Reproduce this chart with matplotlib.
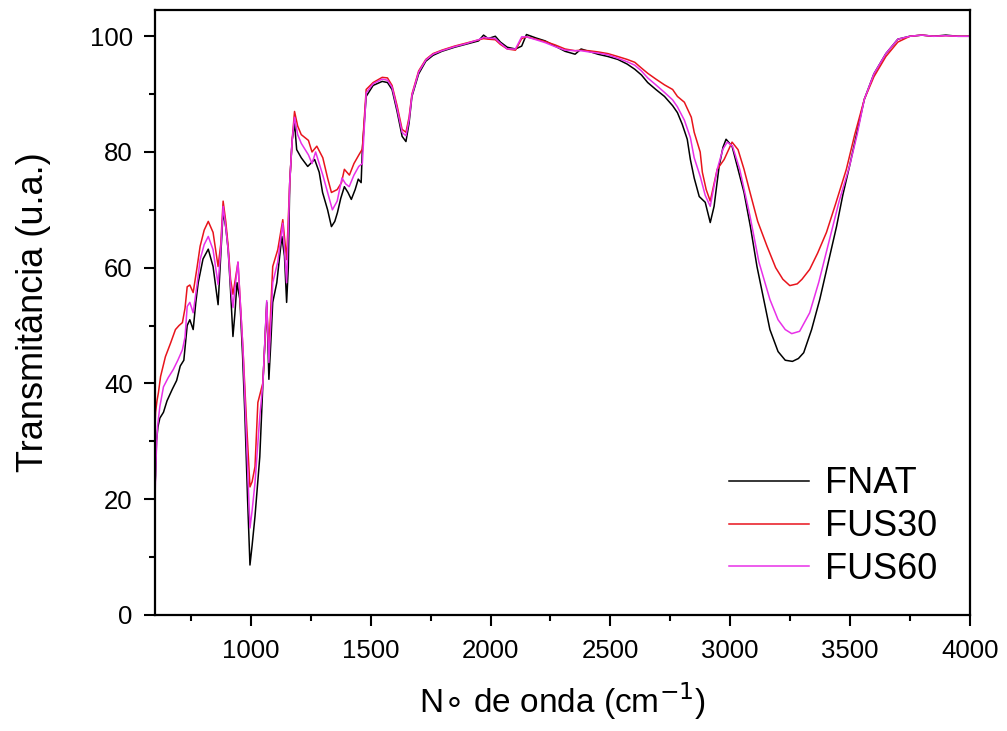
import matplotlib
matplotlib.use("Agg")
import matplotlib.pyplot as plt
from matplotlib.ticker import MultipleLocator

fnat = [(600, 22.5), (602, 24), (606, 30), (612, 32.5), (620, 34), (635, 35), (650, 37),
        (672, 39), (690, 40.5), (705, 43), (720, 44), (734, 50), (745, 51), (759, 49.3),
        (770, 54), (780, 57.4), (800, 61.5), (822, 63.2), (842, 60.2), (863, 53.6),
        (874, 62), (884, 69.7), (895, 67), (905, 63.1), (915, 56), (925, 48.1), (933, 52),
        (942, 57.4), (954, 54.5), (965, 45), (975, 34.3), (986, 20), (996, 8.6),
        (1005, 12), (1017, 17), (1037, 27.3), (1050, 40), (1066, 54), (1075, 40.7),
        (1083, 47), (1091, 54), (1108, 57.4), (1120, 62), (1129, 65.4), (1140, 62),
        (1149, 54), (1156, 60), (1162, 74.7), (1172, 82), (1182, 85), (1191, 80.4),
        (1210, 79), (1237, 77.5), (1266, 78.7), (1285, 76.5), (1299, 73), (1320, 70),
        (1336, 67.1), (1350, 68), (1361, 69.5), (1375, 72), (1390, 74), (1405, 73),
        (1419, 71.8), (1435, 73.5), (1448, 75.3), (1460, 74.7), (1465, 80.4),
        (1481, 89.6), (1510, 91.5), (1548, 92.2), (1570, 92), (1589, 90.8), (1610, 87),
        (1631, 82.7), (1647, 81.8), (1660, 85), (1672, 89.6), (1700, 93.5), (1730, 95.7),
        (1760, 96.7), (1797, 97.4), (1850, 98.1), (1896, 98.6), (1950, 99.2),
        (1971, 100.2), (1990, 99.6), (2020, 100), (2041, 99), (2070, 98.1), (2104, 97.8),
        (2130, 98.3), (2150, 100.3), (2190, 99.7), (2228, 99.2), (2270, 98.3),
        (2311, 97.4), (2353, 96.9), (2378, 97.8), (2410, 97.4), (2448, 96.9),
        (2490, 96.5), (2531, 96), (2570, 95.2), (2602, 94.3), (2630, 93.3), (2656, 92),
        (2690, 90.8), (2726, 89.6), (2760, 88), (2780, 86.8), (2800, 84.8), (2821, 82.2),
        (2834, 78.7), (2850, 75.5), (2871, 72.3), (2896, 71.3), (2917, 67.8),
        (2933, 70.6), (2954, 77.5), (2970, 80.8), (2983, 82.2), (3008, 81), (3030, 77.5),
        (3058, 73), (3085, 67), (3112, 60.2), (3140, 54.5), (3166, 49.3), (3200, 45.5),
        (3230, 44), (3260, 43.8), (3285, 44.3), (3307, 45.3), (3340, 49.3), (3374, 54.5),
        (3410, 61), (3444, 67.1), (3470, 72.5), (3498, 77.5), (3530, 83.5), (3560, 89.1),
        (3600, 93.5), (3650, 97), (3700, 99.5), (3750, 100), (3800, 100.2), (3850, 100),
        (3900, 100.2), (3950, 100), (4000, 100)]

fus30 = [(600, 33), (602, 35), (608, 37), (614, 38.4), (623, 41.2), (643, 44.6),
         (665, 47), (685, 49.3), (700, 50), (714, 50.5), (725, 53), (734, 56.7), (745, 57),
         (759, 55.7), (775, 60), (788, 63.7), (805, 66.5), (822, 68), (842, 66.1),
         (863, 60.2), (874, 64), (884, 71.5), (895, 68), (905, 63.7), (915, 58),
         (925, 55.4), (935, 58), (946, 60.9), (967, 45.8), (982, 33), (996, 22.1),
         (1005, 23), (1017, 25.6), (1029, 36.7), (1050, 40.1), (1066, 53.3), (1075, 45.8),
         (1091, 60.2), (1112, 63.1), (1133, 68.3), (1149, 61.4), (1162, 74.7), (1172, 82),
         (1182, 87), (1195, 84.5), (1210, 83), (1240, 82), (1255, 80), (1275, 81),
         (1300, 79), (1320, 75.5), (1336, 73), (1360, 73.5), (1378, 74.7), (1390, 77),
         (1411, 76), (1430, 78), (1452, 79.6), (1465, 80.5), (1481, 90.8), (1510, 92),
         (1548, 92.9), (1570, 92.8), (1589, 91.5), (1610, 88), (1631, 83.9), (1647, 83.4),
         (1660, 86), (1672, 90), (1700, 94), (1730, 96), (1760, 97), (1797, 97.6),
         (1850, 98.3), (1896, 98.8), (1950, 99.4), (1971, 99.6), (1990, 99.5),
         (2020, 99.4), (2041, 98.6), (2070, 97.8), (2104, 97.6), (2130, 99.6),
         (2150, 99.9), (2190, 99.5), (2228, 99.1), (2270, 98.5), (2311, 97.8),
         (2353, 97.5), (2378, 97.6), (2410, 97.5), (2448, 97.3), (2490, 97), (2531, 96.5),
         (2570, 96), (2602, 95.5), (2630, 94.5), (2656, 93.6), (2690, 92.6), (2726, 91.6),
         (2760, 90.8), (2780, 89.6), (2809, 88.6), (2838, 86), (2850, 83.4), (2875, 80),
         (2884, 76.5), (2900, 73.5), (2917, 71.5), (2946, 77), (2975, 78.7), (3008, 81.7),
         (3033, 80.4), (3058, 77), (3083, 73), (3115, 68), (3154, 63.7), (3190, 60),
         (3220, 58), (3249, 56.9), (3280, 57.2), (3300, 58), (3332, 59.7), (3365, 62.5),
         (3402, 66.1), (3440, 71), (3485, 77), (3520, 83), (3560, 89.1), (3600, 93),
         (3650, 96.5), (3700, 99), (3750, 100), (3800, 100.2), (3850, 100), (3900, 100.1),
         (3950, 100), (4000, 100)]

fus60 = [(600, 20.4), (602, 24), (606, 29), (610, 32.5), (620, 36), (635, 39.4),
         (655, 41), (676, 42.4), (695, 44), (714, 45.8), (725, 48), (734, 53.3), (745, 54),
         (759, 52.2), (775, 57), (788, 61.4), (805, 64), (822, 65.4), (842, 63.1),
         (863, 57.1), (874, 63), (884, 70.6), (895, 67), (905, 63.1), (915, 57),
         (925, 53.1), (935, 57), (946, 61), (967, 45.8), (982, 30), (996, 15), (1005, 18),
         (1017, 22.8), (1037, 34.3), (1050, 40), (1066, 54.3), (1075, 43.6), (1091, 57.4),
         (1112, 61), (1133, 67.7), (1149, 57.4), (1162, 74.7), (1172, 82), (1182, 86),
         (1195, 83), (1210, 81.5), (1240, 79.5), (1255, 78), (1270, 80), (1300, 76),
         (1320, 73), (1340, 70), (1360, 71.5), (1380, 75.5), (1395, 74.5), (1410, 74),
         (1430, 76), (1450, 77.5), (1465, 78), (1481, 90.2), (1510, 91.8), (1548, 92.6),
         (1570, 92.4), (1589, 91.2), (1610, 87.5), (1631, 83.4), (1647, 82.8),
         (1660, 85.5), (1672, 89.8), (1700, 93.8), (1730, 95.9), (1760, 96.9),
         (1797, 97.5), (1850, 98.2), (1896, 98.7), (1950, 99.4), (1971, 99.8),
         (1990, 99.7), (2020, 99.6), (2041, 98.8), (2070, 97.8), (2104, 97.8),
         (2130, 99.9), (2150, 99.9), (2190, 99.4), (2228, 98.9), (2270, 98.2),
         (2311, 97.6), (2353, 97.5), (2378, 97.5), (2410, 97.3), (2448, 97.1),
         (2490, 96.8), (2531, 96.2), (2570, 95.6), (2602, 95), (2630, 94), (2656, 92.8),
         (2690, 91.6), (2726, 90.3), (2760, 89), (2780, 87.8), (2809, 85.5), (2834, 82.5),
         (2850, 79), (2875, 75.8), (2896, 72.5), (2917, 70.6), (2946, 77), (2970, 80.5),
         (2988, 81.7), (3010, 81), (3040, 77), (3083, 68.9), (3120, 61), (3166, 54.5),
         (3200, 51), (3230, 49.3), (3257, 48.6), (3290, 49), (3332, 52.2), (3370, 57.5),
         (3415, 64.9), (3455, 71.5), (3498, 77.5), (3530, 83), (3560, 89.1), (3600, 93.5),
         (3650, 97), (3700, 99.5), (3750, 100), (3800, 100.2), (3850, 100), (3900, 100.1),
         (3950, 100), (4000, 100)]

series = [("FNAT", fnat, "#000000"),
          ("FUS30", fus30, "#e8141c"),
          ("FUS60", fus60, "#e830e8")]

plt.rcParams['font.family'] = ['Liberation Sans', 'DejaVu Sans']

fig = plt.figure(figsize=(10.07, 7.31), dpi=100)
ax = fig.add_axes([0.154, 0.159, 0.809, 0.827])

for name, pts, cor in series:
    xs = [p[0] for p in pts]
    ys = [p[1] for p in pts]
    ax.plot(xs, ys, color=cor, lw=1.1, label=name)

ax.set_xlim(600, 4000)
ax.set_ylim(0, 104.5)
ax.xaxis.set_major_locator(MultipleLocator(500))
ax.xaxis.set_minor_locator(MultipleLocator(250))
ax.yaxis.set_major_locator(MultipleLocator(20))
ax.yaxis.set_minor_locator(MultipleLocator(10))
ax.tick_params(which='major', direction='out', length=8, width=1.5, labelsize=18.5)
ax.tick_params(which='minor', direction='out', length=4.5, width=1.5)
ax.tick_params(axis='x', which='major', pad=9.5)
ax.tick_params(axis='y', which='major', pad=8)
for s in ax.spines.values():
    s.set_linewidth(1.6)

ax.set_xlabel(r'N$\circ$ de onda (cm$^{-1}$)', fontsize=24, labelpad=12)
ax.set_ylabel('Transmitância (u.a.)', fontsize=26, labelpad=28)

leg = ax.legend(loc='lower right', frameon=False, fontsize=26, handlelength=2.2,
                handletextpad=0.45, labelspacing=0.22, bbox_to_anchor=(1.0, -0.008))

fig.savefig('out.png', dpi=100)
